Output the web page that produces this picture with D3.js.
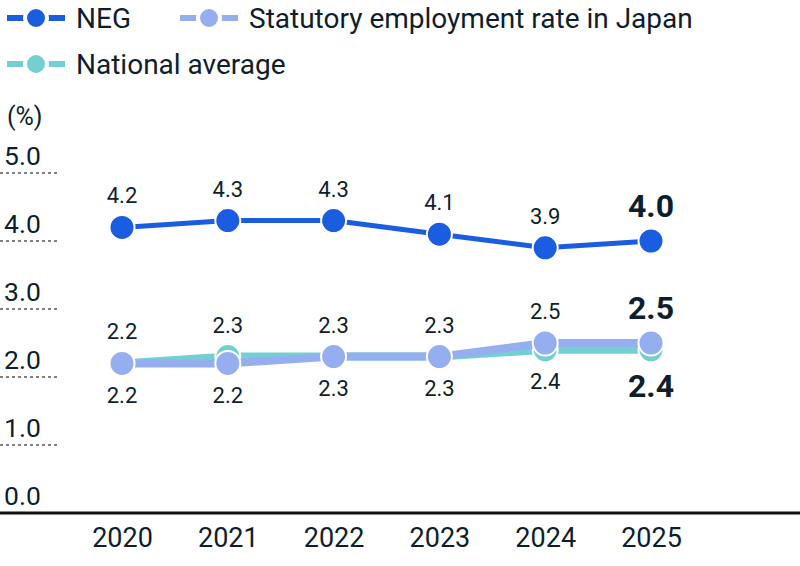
<!DOCTYPE html>
<html><head><meta charset="utf-8">
<script src="https://cdn.jsdelivr.net/npm/d3@7"></script>
<style>
body{margin:0;background:#fff;}
svg{display:block;font-family:Roboto,"Noto Sans",sans-serif;}
</style></head>
<body><svg id="c" width="800" height="566"></svg>
<script>
const years = ["2020","2021","2022","2023","2024","2025"];
const negValues = [4.2, 4.3, 4.3, 4.1, 3.9, 4.0];
const statutoryValues = [2.2, 2.2, 2.3, 2.3, 2.5, 2.5];
const nationalValues = [2.2, 2.3, 2.3, 2.3, 2.4, 2.4];
const yTicks = [0, 1, 2, 3, 4, 5];
const seriesNames = ["NEG", "Statutory employment rate in Japan", "National average"];
const colors = {neg: "#1B5DE0", stat: "#94AEEF", nat: "#74CFD2"};
const textColor = "#0E1E2C";

const svg = d3.select("#c");
const x = d3.scalePoint().domain(years).range([122, 651]);
const y = d3.scaleLinear().domain([0, 5]).range([513, 173]);

// gridlines + y labels
const g = svg.append("g");
yTicks.forEach(t => {
  if (t > 0) {
    g.append("line").attr("x1", 0).attr("x2", 57).attr("y1", y(t)).attr("y2", y(t))
      .attr("stroke", "#555").attr("stroke-width", 1.5).attr("stroke-dasharray", "3,3");
  }
  g.append("text").attr("x", 4).attr("y", y(t) - 8).attr("font-size", 26.5)
    .attr("fill", textColor).text(t.toFixed(1));
});
svg.append("text").attr("x", 7).attr("y", 125).attr("font-size", 25).attr("fill", textColor).text("(%)");

// baseline
svg.append("line").attr("x1", 0).attr("x2", 800).attr("y1", 513).attr("y2", 513)
  .attr("stroke", "#111").attr("stroke-width", 3);

// x labels
const xAxis = d3.axisBottom(x).tickSize(0).tickPadding(0);
const xa = svg.append("g").attr("transform", "translate(0,513)").call(xAxis);
xa.select(".domain").remove();
xa.selectAll("text").attr("font-size", 27).attr("fill", textColor)
  .attr("font-family", "Roboto").attr("dy", null).attr("y", 34);

const line = d3.line().x((d, i) => x(years[i])).y(d => y(d));

function drawSeries(vals, color, width, r) {
  svg.append("path").datum(vals).attr("d", line).attr("fill", "none")
    .attr("stroke", color).attr("stroke-width", width);
  svg.append("g").selectAll("circle").data(vals).join("circle")
    .attr("cx", (d, i) => x(years[i])).attr("cy", d => y(d)).attr("r", r)
    .attr("fill", color).attr("stroke", "#fff").attr("stroke-width", 2);
}
drawSeries(nationalValues, colors.nat, 8, 12.5);
drawSeries(statutoryValues, colors.stat, 8, 12.5);
drawSeries(negValues, colors.neg, 5, 12.5);

// labels
const last = years.length - 1;
function label(i, val, yPos, above) {
  const bold = i === last;
  const fs = bold ? 32 : 22;
  const cap = fs * 0.711;
  const by = above ? yPos - 24 : yPos + 24 + cap;
  svg.append("text").attr("x", x(years[i])).attr("y", by).attr("text-anchor", "middle")
    .attr("font-size", fs).attr("font-weight", bold ? 700 : 400).attr("fill", textColor)
    .text(val.toFixed(1));
}
negValues.forEach((v, i) => label(i, v, y(v), true));
years.forEach((yr, i) => {
  const hi = Math.max(statutoryValues[i], nationalValues[i]);
  const lo = Math.min(statutoryValues[i], nationalValues[i]);
  label(i, hi, y(hi), true);
  label(i, lo, y(lo), false);
});

// legend
const legend = [
  {name: seriesNames[0], color: colors.neg, x: 7, y: 18},
  {name: seriesNames[1], color: colors.stat, x: 180, y: 18},
  {name: seriesNames[2], color: colors.nat, x: 7, y: 64}
];
legend.forEach(l => {
  const lg = svg.append("g");
  lg.append("line").attr("x1", l.x).attr("x2", l.x + 58).attr("y1", l.y).attr("y2", l.y)
    .attr("stroke", l.color).attr("stroke-width", 6);
  lg.append("circle").attr("cx", l.x + 29).attr("cy", l.y).attr("r", 11)
    .attr("fill", l.color).attr("stroke", "#fff").attr("stroke-width", 4);
  lg.append("text").attr("x", l.x + 69).attr("y", l.y + 10).attr("font-size", 28)
    .attr("fill", textColor).text(l.name);
});
</script></body></html>
